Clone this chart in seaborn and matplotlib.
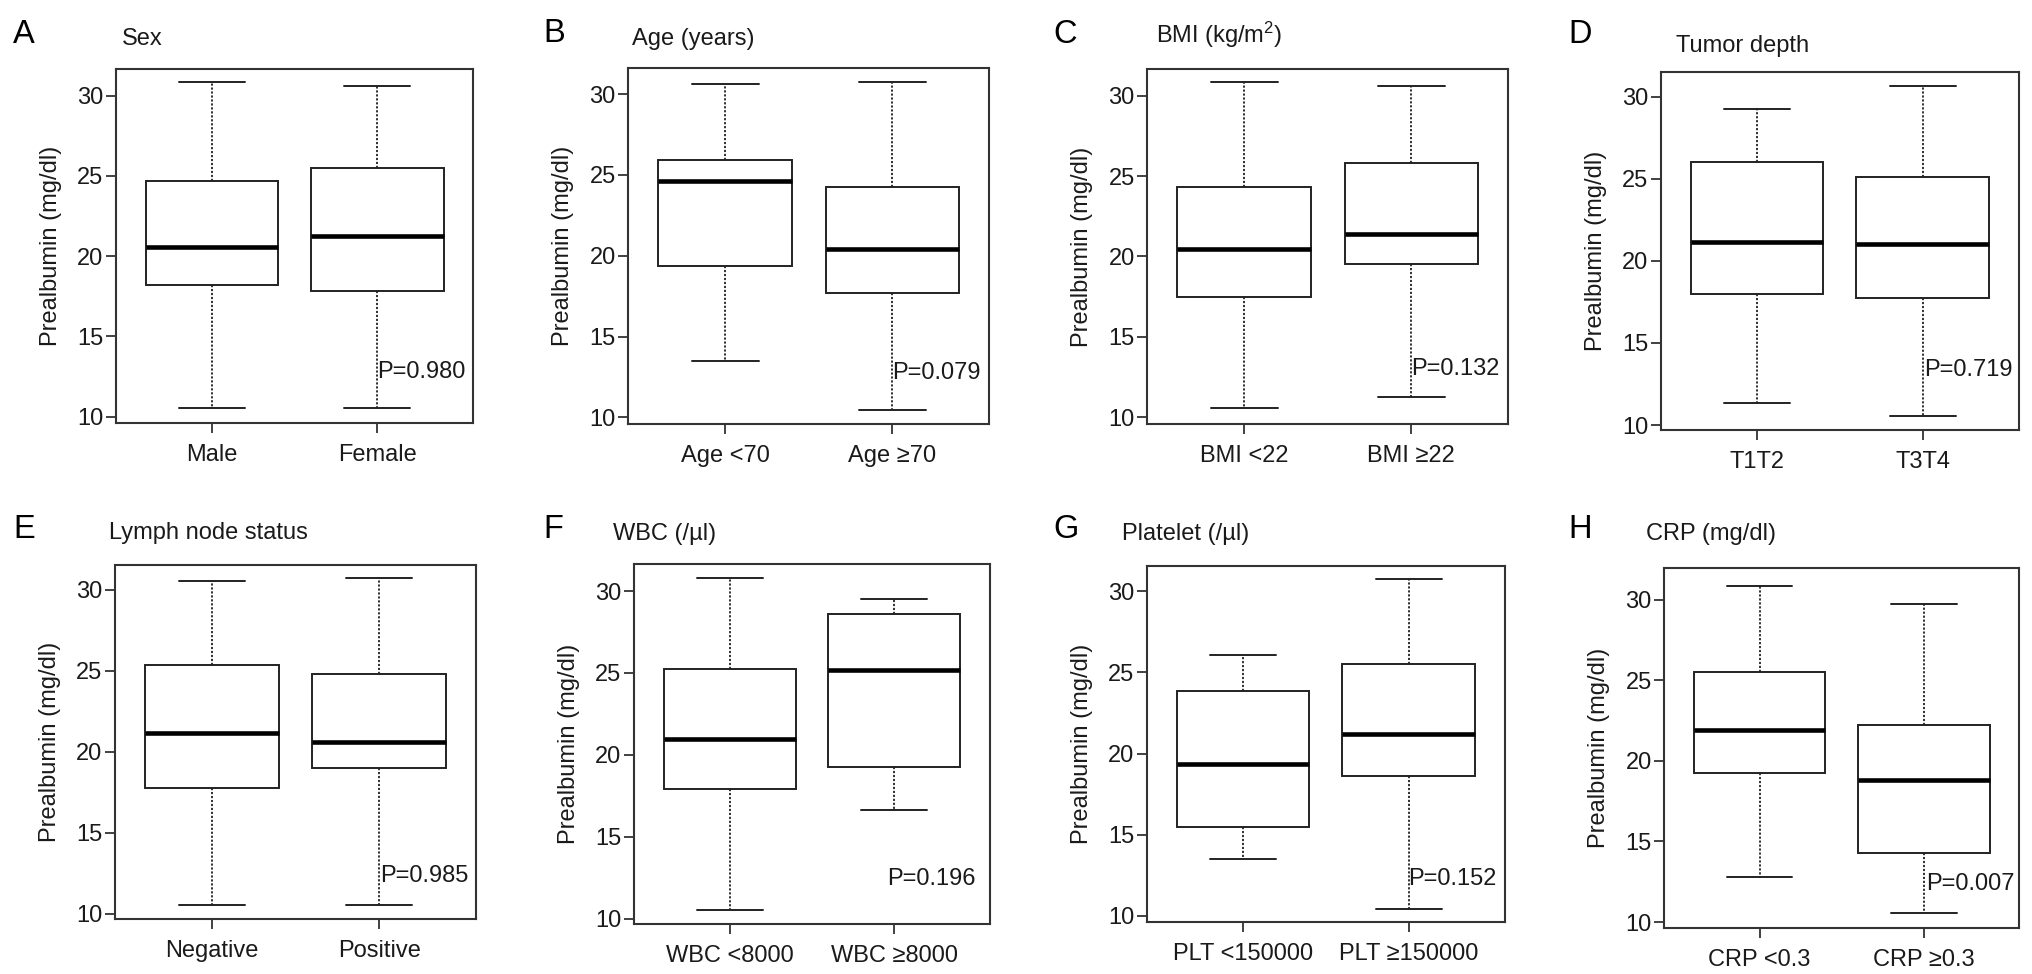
import numpy as np
import pandas as pd
import matplotlib
matplotlib.use("Agg")
import matplotlib.pyplot as plt
import seaborn as sns

# ---------------- data ----------------
panel_letters = ["A", "B", "C", "D", "E", "F", "G", "H"]
panel_titles = ["Sex", "Age (years)", r"BMI (kg/m$^{\mathregular{2}}$)", "Tumor depth",
                "Lymph node status", "WBC (/µl)", "Platelet (/µl)", "CRP (mg/dl)"]
group_labels = [["Male", "Female"], ["Age <70", "Age ≥70"], ["BMI <22", "BMI ≥22"],
                ["T1T2", "T3T4"], ["Negative", "Positive"], ["WBC <8000", "WBC ≥8000"],
                ["PLT <150000", "PLT ≥150000"], ["CRP <0.3", "CRP ≥0.3"]]
p_values = ["P=0.980", "P=0.079", "P=0.132", "P=0.719",
            "P=0.985", "P=0.196", "P=0.152", "P=0.007"]
whisker_low = [[10.52, 10.52], [13.48, 10.43], [10.56, 11.29], [11.36, 10.55],
               [10.51, 10.51], [10.55, 16.65], [13.49, 10.45], [12.79, 10.58]]
lower_quartile = [[18.20, 17.85], [19.38, 17.71], [17.50, 19.51], [17.98, 17.74],
                  [17.78, 18.99], [17.89, 19.26], [15.48, 18.64], [19.27, 14.28]]
median_vals = [[20.59, 21.26], [24.62, 20.39], [20.45, 21.38], [21.15, 21.05],
               [21.15, 20.60], [20.99, 25.20], [19.33, 21.20], [21.93, 18.79]]
upper_quartile = [[24.68, 25.51], [25.90, 24.25], [24.32, 25.79], [26.02, 25.13],
                  [25.37, 24.79], [25.24, 28.62], [23.83, 25.53], [25.51, 22.20]]
whisker_high = [[30.83, 30.62], [30.62, 30.72], [30.83, 30.62], [29.23, 30.67],
                [30.53, 30.74], [30.81, 29.53], [26.04, 30.72], [30.83, 29.71]]
y_ticks = [10, 15, 20, 25, 30]
y_label = "Prealbumin (mg/dl)"

# ---------------- layout (pixels) ----------------
W, H = 2032, 974
axes_px = [(116, 69.3, 473.3, 422.7), (628.3, 68.3, 989.3, 424),
           (1147.3, 69.3, 1508.3, 424), (1661, 71.7, 2018.7, 430),
           (115, 564.7, 476, 919.3), (634, 564.3, 990, 924.3),
           (1146.7, 566, 1505, 922), (1664.3, 567.7, 2019.3, 927.7)]
ylims = [(9.63, 31.64), (9.59, 31.59), (9.58, 31.64), (9.70, 31.52),
         (9.65, 31.54), (9.66, 31.63), (9.63, 31.54), (9.65, 31.99)]
title_pos = [(122, 45), (632.5, 45), (1156, 43.3), (1676, 51.7),
             (109, 538.7), (613, 540.3), (1122, 539.7), (1646, 540.3)]
letter_pos = [(12.7, 42.7), (543, 41.7), (1053, 42.7), (1568.5, 43.3),
              (13, 537.7), (543, 537.7), (1053, 537.7), (1568.5, 537.7)]
p_pos = [(1.0, 12.80), (1.0, 12.72), (1.0, 12.98), (1.01, 13.35),
         (1.005, 12.30), (0.955, 12.44), (0.995, 12.30), (1.015, 12.38)]

sns.set_theme(style="ticks")
plt.rcParams["font.family"] = ["Liberation Sans", "DejaVu Sans"]
plt.rcParams["mathtext.fontset"] = "custom"
plt.rcParams["mathtext.rm"] = "Liberation Sans"
plt.rcParams["mathtext.it"] = "Liberation Sans:italic"
plt.rcParams["mathtext.bf"] = "Liberation Sans:bold"

fig = plt.figure(figsize=(W / 100, H / 100), dpi=100, facecolor="white")
frame_col = "#333333"
text_col = "#1a1a1a"

for i in range(8):
    l, t, r, b = axes_px[i]
    ax = fig.add_axes([l / W, 1 - b / H, (r - l) / W, (b - t) / H])
    rows = []
    for j, g in enumerate(group_labels[i]):
        for v in (whisker_low[i][j], lower_quartile[i][j], median_vals[i][j],
                  upper_quartile[i][j], whisker_high[i][j]):
            rows.append((g, v))
    df = pd.DataFrame(rows, columns=["group", "value"])
    sns.boxplot(data=df, x="group", y="value", order=group_labels[i], ax=ax,
                color="white", linecolor="black", linewidth=1.4, width=0.8,
                whis=np.inf, showfliers=False,
                whiskerprops=dict(linestyle=(0, (1.2, 1.0)), linewidth=1.3, color="#222222"),
                capprops=dict(linewidth=1.4, color="#222222"),
                medianprops=dict(linewidth=3.3, color="black"),
                boxprops=dict(facecolor="white", edgecolor="#222222", linewidth=1.4))
    ax.set_xlim(-0.58, 1.58)
    ax.set_ylim(*ylims[i])
    ax.set_yticks(y_ticks)
    ax.set_xlabel("")
    ax.set_ylabel(y_label, fontsize=17, labelpad=11, color=text_col)
    for s in ax.spines.values():
        s.set_visible(True)
        s.set_color(frame_col)
        s.set_linewidth(1.5)
    ax.tick_params(axis="both", direction="out", length=7, width=1.3,
                   color=frame_col, labelsize=17, labelcolor=text_col)
    ax.tick_params(axis="x", pad=8)
    ax.tick_params(axis="y", pad=2)
    ax.set_facecolor("white")
    ax.text(p_pos[i][0], p_pos[i][1], p_values[i], fontsize=17, ha="left",
            va="center", color=text_col)
    fig.text(title_pos[i][0] / W, 1 - title_pos[i][1] / H, panel_titles[i],
             fontsize=17, ha="left", va="baseline", color=text_col)
    fig.text(letter_pos[i][0] / W, 1 - letter_pos[i][1] / H, panel_letters[i],
             fontsize=23.5, ha="left", va="baseline", color="black")

fig.savefig("out.png", dpi=100, facecolor="white")
